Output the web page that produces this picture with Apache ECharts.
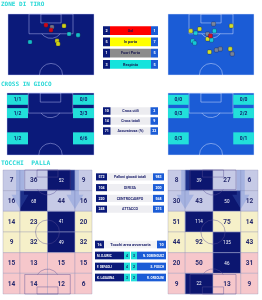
<!DOCTYPE html>
<html><head><meta charset="utf-8">
<script src="https://cdn.jsdelivr.net/npm/echarts@6/dist/echarts.min.js"></script>
<style>html,body{margin:0;padding:0;background:#fff}#c{width:262px;height:300px}</style>
</head><body><div id="c"></div><script>
// ================= DATA =================
const shotTypes = ['Gol', 'In porta', 'Fuori Porta', 'Respinto'];
const shotCountsHome = [2, 5, 1, 3];
const shotCountsAway = [1, 7, 5, 5];
// shot positions: [across pitch (m), distance from goal line (m)]
const shotsHomeGol = [[30.0, 9.5], [34.0, 13.8]];
const shotsHomeInPorta = [[44.3, 10.3], [38.8, 23.2], [39.6, 25.8]];
const shotsHomeFuori = [[34.8, 11.2]];
const shotsHomeRespinto = [[48.3, 17.2], [55.4, 18.1], [17.4, 24.1]];
const shotsAwayGol = [[33.6, 18.9]];
const shotsAwayInPorta = [[50.0, 10.3], [18.0, 14.6], [25.0, 12.9], [31.3, 21.5], [32.8, 32.7], [49.2, 30.1]];
const shotsAwayFuori = [[36.0, 8.6], [31.3, 17.2], [38.3, 31.0], [41.4, 30.1], [50.8, 34.4]];
const shotsAwayRespinto = [[21.9, 16.4], [36.7, 14.6], [19.5, 23.2], [21.1, 25.0], [34.4, 22.4]];

const crossZoneNames = ['Alto sx', 'Alto dx', 'Medio sx', 'Medio dx', 'Basso sx', 'Basso dx'];
const crossHome = ['1/1', '0/0', '1/2', '3/3', '1/2', '6/6'];
const crossAway = ['0/0', '0/0', '0/3', '2/2', '0/3', '0/1'];
const crossStatLabels = ['Cross utili', 'Cross totali', 'Accuratezza (%)'];
const crossStatHome = [10, 14, 71];
const crossStatAway = [2, 9, 22];

const touchHome = [[7, 36, 52, 9], [16, 68, 44, 16], [14, 23, 41, 20], [9, 32, 49, 32], [15, 13, 15, 15], [14, 14, 12, 6]];
const touchAway = [[8, 39, 27, 6], [30, 43, 50, 12], [51, 114, 75, 14], [44, 92, 135, 43], [20, 50, 46, 31], [9, 22, 13, 9]];
const touchHomeTop = [[0, 2], [1, 1], [2, 2], [3, 2]];
const touchAwayTop = [[0, 1], [1, 2], [2, 1], [3, 2], [4, 2], [5, 1]];
const touchStatLabels = ['Palloni giocati totali', 'DIFESA', 'CENTROCAMPO', 'ATTACCO'];
const touchStatHome = [572, 104, 220, 248];
const touchStatAway = [983, 200, 568, 215];

const areaLabel = 'Tocchi area avversaria';
const areaHome = 16;
const areaAway = 10;
const playersHome = ['M. DJURIC', 'F. DEPAOLI', 'K. LASAGNA'];
const playersHomeTouches = [4, 4, 3];
const playersAway = ['N. DOMINGUEZ', 'S. POSCH', 'R. ORSOLINI'];
const playersAwayTouches = [3, 2, 2];

const titles = ['ZONE DI TIRO', 'CROSS IN GIOCO', 'TOCCHI  PALLA'];

// ================= STYLE / LAYOUT =================
const NAVY = '#0b1a7a', BLUE = '#1b5cd6', CYAN = '#22e0da', DARK = '#0c1670';
const SHOT_COLORS = ['#ff0000', '#ffff00', '#8c8c8c', '#14e3dc'];
const ZONE_FILL = ['#c6cae6', '#c6cae6', '#f6f0c9', '#f6f0c9', '#f6c7cb', '#f6c7cb'];
const COL_EDGES = [0, 13, 34, 55, 68];
const ROW_H = 17.5;
const CROSS_GEOM = [[0, 16.4, 1.5, 10], [51.6, 68, 1.5, 10], [0, 16.4, 12.8, 21.3], [51.6, 68, 12.8, 21.3], [0, 16.4, 33.3, 43.5], [51.6, 68, 33.3, 43.5]];
const FONT = 'Roboto';

function rectOf(a, b) {
  return { x: Math.min(a[0], b[0]), y: Math.min(a[1], b[1]), width: Math.abs(b[0] - a[0]), height: Math.abs(b[1] - a[1]) };
}
function txt(text, x, y, size, color, weight, align) {
  return { type: 'text', style: { text: String(text), x: x, y: y, align: align || 'center', verticalAlign: 'middle',
    fontSize: size, fontWeight: weight || 'bold', fontFamily: FONT, fill: color } };
}

function halfPitchRender(stroke) {
  return function (params, api) {
    const P = (x, y) => api.coord([x, y]);
    const ls = { stroke: stroke, lineWidth: 0.8, fill: 'none' };
    const R = (x0, y0, x1, y1) => ({ type: 'rect', shape: rectOf(P(x0, y0), P(x1, y1)), style: ls });
    const k = api.size([1, 1]);
    const r = 9.15 * k[0];
    const spot = P(34, 11), cc = P(34, 52.5);
    const a = Math.asin(Math.min(1, 6 * k[1] / r));
    return { type: 'group', children: [
      R(0, 0, 68, 52.5),
      R(16.6, 0, 51.4, 17),
      R(26, 0, 42, 7.7),
      { type: 'arc', shape: { cx: spot[0], cy: spot[1], r: r, startAngle: a, endAngle: Math.PI - a, clockwise: true }, style: ls },
      { type: 'arc', shape: { cx: cc[0], cy: cc[1], r: r, startAngle: Math.PI, endAngle: 2 * Math.PI, clockwise: true }, style: ls }
    ] };
  };
}

function touchOverlayRender(params, api) {
  const P = (x, y) => api.coord([x, y]);
  const ls = { stroke: 'rgba(90,80,150,0.55)', lineWidth: 0.8, fill: 'none' };
  const R = (x0, y0, x1, y1) => ({ type: 'rect', shape: rectOf(P(x0, y0), P(x1, y1)), style: ls });
  const k = api.size([1, 1]);
  const r = 9.15 * k[0];
  const a = Math.asin(Math.min(1, 5.5 * k[1] / r));
  const s1 = P(34, 11), s2 = P(34, 94), cc = P(34, 52.5);
  const arrow = (cx) => ({ type: 'polygon', shape: { points: [
      P(cx - 3, 0), P(cx + 3, 0), P(cx + 3, 21), P(cx + 6.5, 21), P(cx, 33), P(cx - 6.5, 21), P(cx - 3, 21)] },
    style: { fill: 'rgba(80,120,210,0.28)' } });
  return { type: 'group', children: [
    arrow(COL_EDGES[1]), arrow(COL_EDGES[3]),
    R(16.6, 0, 51.4, 16.5), R(26, 0, 42, 6),
    { type: 'arc', shape: { cx: s1[0], cy: s1[1], r: r, startAngle: a, endAngle: Math.PI - a, clockwise: true }, style: ls },
    { type: 'circle', shape: { cx: cc[0], cy: cc[1], r: r }, style: ls },
    R(16.6, 88.5, 51.4, 105), R(26, 99, 42, 105),
    { type: 'arc', shape: { cx: s2[0], cy: s2[1], r: r, startAngle: Math.PI + a, endAngle: 2 * Math.PI - a, clockwise: true }, style: ls }
  ] };
}

function touchCellRender(top) {
  return function (params, api) {
    const c = api.value(0), r = api.value(1), v = api.value(2);
    const hi = top.some(t => t[0] === r && t[1] === c);
    const a = api.coord([COL_EDGES[c], r * ROW_H]), b = api.coord([COL_EDGES[c + 1], (r + 1) * ROW_H]);
    const sh = rectOf(a, b);
    return { type: 'group', children: [
      { type: 'rect', shape: sh, style: { fill: hi ? DARK : ZONE_FILL[r], stroke: hi ? '#8f94c4' : 'rgba(140,140,180,0.55)', lineWidth: 0.6 } },
      txt(v, sh.x + sh.width / 2, sh.y + sh.height / 2 + 0.5, hi ? 4.5 : 6.5, hi ? '#ffffff' : '#262a6e', hi ? 'normal' : 'bold')
    ] };
  };
}

function crossZoneRender(labels) {
  return function (params, api) {
    const g = CROSS_GEOM[params.dataIndex];
    const sh = rectOf(api.coord([g[0], g[2]]), api.coord([g[1], g[3]]));
    return { type: 'group', children: [
      { type: 'rect', shape: sh, style: { fill: CYAN } },
      txt(labels[params.dataIndex], sh.x + sh.width / 2, sh.y + sh.height / 2 + 0.3, 5, '#13206e', 'bold')
    ] };
  };
}

function statRender(opts) {
  return function (params, api) {
    const i = params.dataIndex;
    const cs = params.coordSys;
    const yc = api.coord([0, i])[1];
    const h = api.size([0, 1])[1] * opts.ratio;
    const y0 = yc - h / 2;
    const x0 = cs.x, x1 = cs.x + cs.width;
    const ch = [];
    ch.push({ type: 'rect', shape: { x: x0 + opts.bw, y: y0, width: cs.width - 2 * opts.bw, height: h },
      style: { fill: opts.bandColor ? opts.bandColor[i] : opts.band } });
    ch.push({ type: 'rect', shape: { x: x0, y: y0, width: opts.bw, height: h }, style: { fill: NAVY } });
    ch.push({ type: 'rect', shape: { x: x1 - opts.bw, y: y0, width: opts.bw, height: h }, style: { fill: BLUE } });
    ch.push(txt(opts.left[i], x0 + opts.bw / 2, yc + 0.3, opts.fs, '#ffffff', 'bold'));
    ch.push(txt(opts.right[i], x1 - opts.bw / 2, yc + 0.3, opts.fs, '#ffffff', 'bold'));
    ch.push(txt(opts.labels[i], (x0 + x1) / 2, yc + 0.3, opts.fs, opts.labelColor, 'bold'));
    return { type: 'group', children: ch };
  };
}

function areaRender(params, api) {
  const i = params.dataIndex;
  const cs = params.coordSys;
  const yc = api.coord([0, i])[1];
  const h = api.size([0, 1])[1] * 0.7;
  const y0 = yc - h / 2;
  const x0 = cs.x, x1 = cs.x + cs.width;
  const ch = [];
  if (i === 0) {
    ch.push({ type: 'rect', shape: { x: x0 + 9, y: y0, width: cs.width - 18, height: h }, style: { fill: '#f4f4f6' } });
    ch.push({ type: 'rect', shape: { x: x0, y: y0, width: 9, height: h }, style: { fill: NAVY } });
    ch.push({ type: 'rect', shape: { x: x1 - 9, y: y0, width: 9, height: h }, style: { fill: BLUE } });
    ch.push(txt(areaHome, x0 + 4.5, yc + 0.3, 3.8, '#fff'));
    ch.push(txt(areaAway, x1 - 4.5, yc + 0.3, 3.8, '#fff'));
    ch.push(txt(areaLabel, (x0 + x1) / 2, yc + 0.3, 4, '#1b1f6b'));
  } else {
    const j = i - 1;
    const mid = (x0 + x1) / 2;
    ch.push({ type: 'rect', shape: { x: x0, y: y0, width: mid - 6.5 - x0, height: h }, style: { fill: NAVY } });
    ch.push({ type: 'rect', shape: { x: mid - 6.5, y: y0, width: 6, height: h }, style: { fill: CYAN } });
    ch.push({ type: 'rect', shape: { x: mid + 0.5, y: y0, width: 6, height: h }, style: { fill: CYAN } });
    ch.push({ type: 'rect', shape: { x: mid + 6.5, y: y0, width: x1 - mid - 6.5, height: h }, style: { fill: BLUE } });
    ch.push(txt(playersHome[j], x0 + 2, yc + 0.3, 3, '#fff', 'bold', 'left'));
    ch.push(txt(playersAway[j], x1 - 2, yc + 0.3, 3, '#fff', 'bold', 'right'));
    ch.push(txt(playersHomeTouches[j], mid - 3.5, yc + 0.3, 3.5, '#13206e'));
    ch.push(txt(playersAwayTouches[j], mid + 3.5, yc + 0.3, 3.5, '#13206e'));
  }
  return { type: 'group', children: ch };
}

// ================= LAYOUT =================
const grids = [
  { left: 8, top: 14, width: 86, height: 61, show: true, backgroundColor: NAVY, borderWidth: 0 },    // 0 shots home
  { left: 168, top: 14, width: 86, height: 61, show: true, backgroundColor: BLUE, borderWidth: 0 },  // 1 shots away
  { left: 7, top: 93, width: 87, height: 62, show: true, backgroundColor: NAVY, borderWidth: 0 },    // 2 cross home
  { left: 168, top: 93, width: 86, height: 62, show: true, backgroundColor: BLUE, borderWidth: 0 },  // 3 cross away
  { left: 3, top: 170, width: 89, height: 124 },   // 4 touch home
  { left: 168, top: 170, width: 90, height: 124 }, // 5 touch away
  { left: 103, top: 25, width: 55, height: 45 },   // 6 shot legend
  { left: 103, top: 106, width: 55, height: 30 },  // 7 cross table
  { left: 96, top: 171.5, width: 68, height: 43 }, // 8 touch table
  { left: 95, top: 239, width: 71, height: 44 }    // 9 area table
];
const xAxes = [], yAxes = [];
[52.5, 52.5, 52.5, 52.5, 105, 105].forEach((len, g) => {
  xAxes.push({ type: 'value', gridIndex: g, min: 0, max: 68, show: false });
  yAxes.push({ type: 'value', gridIndex: g, min: 0, max: len, inverse: true, show: false });
});
[shotTypes, crossStatLabels, touchStatLabels, [areaLabel].concat(playersHome)].forEach((cats, k) => {
  xAxes.push({ type: 'value', gridIndex: 6 + k, min: 0, max: 1, show: false });
  yAxes.push({ type: 'category', gridIndex: 6 + k, data: cats, inverse: true, show: false });
});

const series = [];
[0, 1, 2, 3].forEach(g => series.push({ type: 'custom', xAxisIndex: g, yAxisIndex: g, data: [[0, 0]], z: 1, silent: true,
  renderItem: halfPitchRender(g % 2 === 0 ? 'rgba(200,205,255,0.55)' : 'rgba(220,230,255,0.6)') }));

function shotSeries(g, data, ti) {
  return { type: 'scatter', name: shotTypes[ti], xAxisIndex: g, yAxisIndex: g, data: data, symbol: 'roundRect', symbolSize: 4.2, z: 3 + (3 - ti),
    itemStyle: { color: SHOT_COLORS[ti], borderColor: 'rgba(30,30,60,0.7)', borderWidth: 0.6 } };
}
[shotsHomeFuori, shotsHomeRespinto, shotsHomeInPorta, shotsHomeGol].forEach((d, n) => series.push(shotSeries(0, d, [2, 3, 1, 0][n])));
[shotsAwayFuori, shotsAwayRespinto, shotsAwayInPorta, shotsAwayGol].forEach((d, n) => series.push(shotSeries(1, d, [2, 3, 1, 0][n])));

series.push({ type: 'custom', xAxisIndex: 2, yAxisIndex: 2, z: 4, data: crossZoneNames.map((n, i) => [i, i]), renderItem: crossZoneRender(crossHome) });
series.push({ type: 'custom', xAxisIndex: 3, yAxisIndex: 3, z: 4, data: crossZoneNames.map((n, i) => [i, i]), renderItem: crossZoneRender(crossAway) });

function flatTouch(m) { const out = []; m.forEach((row, r) => row.forEach((v, c) => out.push([c, r, v]))); return out; }
series.push({ type: 'custom', xAxisIndex: 4, yAxisIndex: 4, z: 2, data: flatTouch(touchHome), renderItem: touchCellRender(touchHomeTop) });
series.push({ type: 'custom', xAxisIndex: 5, yAxisIndex: 5, z: 2, data: flatTouch(touchAway), renderItem: touchCellRender(touchAwayTop) });
series.push({ type: 'custom', xAxisIndex: 4, yAxisIndex: 4, z: 3, data: [[0, 0]], renderItem: touchOverlayRender });
series.push({ type: 'custom', xAxisIndex: 5, yAxisIndex: 5, z: 3, data: [[0, 0]], renderItem: touchOverlayRender });

series.push({ type: 'custom', xAxisIndex: 6, yAxisIndex: 6, data: shotTypes.map((t, i) => [0, i]),
  renderItem: statRender({ ratio: 0.78, bw: 7, labels: shotTypes, left: shotCountsHome, right: shotCountsAway, bandColor: SHOT_COLORS, labelColor: '#1a1a50', fs: 3.8 }) });
series.push({ type: 'custom', xAxisIndex: 7, yAxisIndex: 7, data: crossStatLabels.map((t, i) => [0, i]),
  renderItem: statRender({ ratio: 0.75, bw: 7.5, labels: crossStatLabels, left: crossStatHome, right: crossStatAway, band: '#ececf0', labelColor: '#1b1f6b', fs: 3.6 }) });
series.push({ type: 'custom', xAxisIndex: 8, yAxisIndex: 8, data: touchStatLabels.map((t, i) => [0, i]),
  renderItem: statRender({ ratio: 0.66, bw: 11, labels: touchStatLabels, left: touchStatHome, right: touchStatAway, band: '#eeeef2', labelColor: '#1b1f6b', fs: 3.6 }) });
series.push({ type: 'custom', xAxisIndex: 9, yAxisIndex: 9, data: [0, 1, 2, 3].map(i => [0, i]), renderItem: areaRender });

const titleStyle = { fontFamily: 'DejaVu Sans Mono', fontSize: 6, fontWeight: 'bold', color: '#27d8d6' };
const chart = echarts.init(document.getElementById('c'), null, { renderer: 'canvas', width: 262, height: 300 });
chart.setOption({
  animation: false,
  backgroundColor: '#ffffff',
  title: [
    { text: titles[0], left: 1, top: 1, padding: 0, textStyle: titleStyle },
    { text: titles[1], left: 1, top: 81, padding: 0, textStyle: titleStyle },
    { text: titles[2], left: 1, top: 160, padding: 0, textStyle: Object.assign({}, titleStyle, { fontSize: 6.3 }) }
  ],
  grid: grids, xAxis: xAxes, yAxis: yAxes, series: series
});
</script></body></html>
